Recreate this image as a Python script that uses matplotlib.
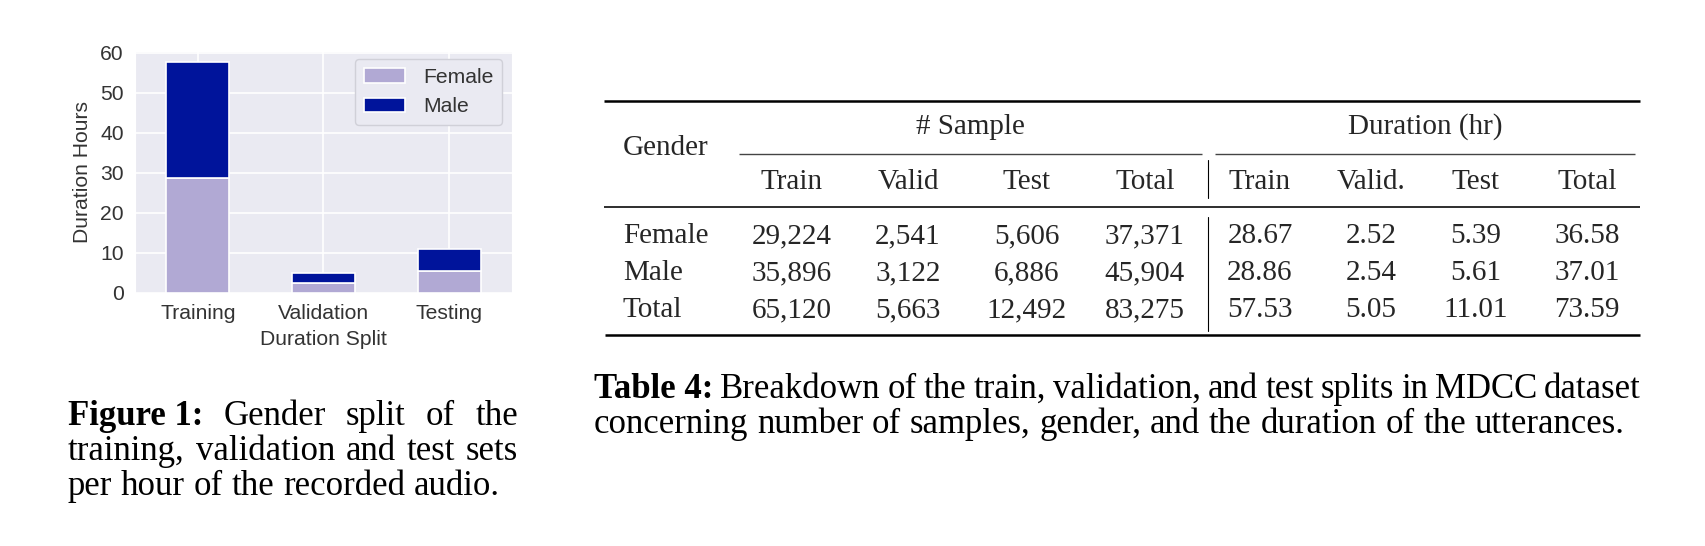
import matplotlib
matplotlib.use("Agg")
import matplotlib.pyplot as plt
import numpy as np
import seaborn as sns

# ---------------- data ----------------
splits = ["Training", "Validation", "Testing"]
female_hours = [28.67, 2.52, 5.39]
male_hours = [28.86, 2.54, 5.61]
series_labels = ["Female", "Male"]

genders = ["Female", "Male", "Total"]
sample_cols = ["Train", "Valid", "Test", "Total"]
duration_cols = ["Train", "Valid.", "Test", "Total"]
samples_female = [29224, 2541, 5606, 37371]
samples_male = [35896, 3122, 6886, 45904]
samples_total = [65120, 5663, 12492, 83275]
dur_female = [28.67, 2.52, 5.39, 36.58]
dur_male = [28.86, 2.54, 5.61, 37.01]
dur_total = [57.53, 5.05, 11.01, 73.59]

fig_caption_bold = "Figure 1:"
fig_caption_lines = ["Gender split of the",
                     "training, validation and test sets",
                     "per hour of the recorded audio."]
tab_caption_bold = "Table 4:"
tab_caption_lines = ["Breakdown of the train, validation, and test splits in MDCC dataset",
                     "concerning number of samples, gender, and the duration of the utterances."]

# ---------------- style ----------------
W, H, DPI = 1706, 546, 100
sns.set_style("darkgrid")
plt.rcParams['font.family'] = ['Liberation Sans', 'DejaVu Sans']
SERIF = ['Liberation Serif', 'DejaVu Serif']
FEMALE_C = '#b1a9d4'
MALE_C = '#00149b'
LBL = 15.2

fig = plt.figure(figsize=(W / DPI, H / DPI), dpi=DPI)
fig.patch.set_facecolor('white')

# ---------------- bar chart ----------------
ax_l, ax_r, ax_t, ax_b = 135, 512, 51, 293
ax = fig.add_axes([ax_l / W, (H - ax_b) / H, (ax_r - ax_l) / W, (ax_b - ax_t) / H])
x = np.arange(len(splits))
ax.bar(x, female_hours, width=0.5, color=FEMALE_C, edgecolor='white', linewidth=1.2,
       label=series_labels[0], zorder=2)
ax.bar(x, male_hours, width=0.5, bottom=female_hours, color=MALE_C, edgecolor='white',
       linewidth=1.2, label=series_labels[1], zorder=2)
ax.set_xlim(-0.5, 2.5)
ax.set_ylim(0, 60.4)
ax.set_yticks([0, 10, 20, 30, 40, 50, 60])
ax.set_xticks(x)
ax.set_xticklabels(splits)
ax.tick_params(axis='both', labelsize=LBL, colors='#333333', length=0)
ax.tick_params(axis='y', pad=8)
ax.tick_params(axis='x', pad=8)
ax.set_ylabel("Duration Hours", fontsize=LBL, color='#333333')
ax.yaxis.label.set_va('center')
ax.yaxis.set_label_coords(-0.14, 0.5)
ax.set_xlabel("Duration Split", fontsize=LBL, color='#333333')
ax.xaxis.label.set_va('center')
ax.xaxis.set_label_coords(0.5, -0.194)
ax.grid(True, color='white', linewidth=1.2)
leg = ax.legend(loc='upper right', bbox_to_anchor=((502 - ax_l) / (ax_r - ax_l), (ax_b - 59) / (ax_b - ax_t)),
                borderaxespad=0, fontsize=LBL, handlelength=1.95, handletextpad=0.85,
                labelspacing=0.5, borderpad=0.42, frameon=True, facecolor='#eaeaf2',
                edgecolor='#d0d0d8', framealpha=1)
for t in leg.get_texts():
    t.set_color('#333333')

# ---------------- overlay (pixel coordinates) ----------------
ov = fig.add_axes([0, 0, 1, 1])
ov.set_xlim(0, W)
ov.set_ylim(H, 0)
ov.axis('off')

renderer = fig.canvas.get_renderer()


def text_width(s, size, weight='normal'):
    t = ov.text(0, 0, s, fontsize=size, fontweight=weight, family=SERIF)
    w = t.get_window_extent(renderer).width
    t.remove()
    return w


def draw_line(tokens, x0, y, size, x1=None):
    """tokens: list of (text, weight). Justified between x0 and x1 if given."""
    widths = [text_width(s, size, w) for s, w in tokens]
    space = text_width("a a", size) - 2 * text_width("a", size)
    if x1 is not None and len(tokens) > 1:
        gap = (x1 - x0 - sum(widths)) / (len(tokens) - 1)
    else:
        gap = space
    xx = x0
    for (s, w), wd in zip(tokens, widths):
        ov.text(xx, y, s, fontsize=size, fontweight=w, family=SERIF, va='baseline',
                ha='left', color='black')
        xx += wd + gap


# ---------------- table ----------------
TS = 21
ov.plot([604, 1640], [100.5, 100.5], color='black', lw=1.8, solid_capstyle='butt')
ov.plot([739, 1202], [154, 154], color='#444444', lw=1.0, solid_capstyle='butt')
ov.plot([1215, 1635], [154, 154], color='#444444', lw=1.0, solid_capstyle='butt')
ov.plot([604, 1640], [206.5, 206.5], color='black', lw=1.15, solid_capstyle='butt')
ov.plot([605, 1640], [335, 335], color='black', lw=1.8, solid_capstyle='butt')
ov.plot([1208, 1208], [160, 198], color='black', lw=0.8)
ov.plot([1208, 1208], [217, 331], color='black', lw=0.8)

ov.text(623, 155, "Gender", fontsize=TS, family=SERIF, va='baseline', ha='left')
ov.text(970, 134, "# Sample", fontsize=TS, family=SERIF, va='baseline', ha='center')
ov.text(1425, 134, "Duration (hr)", fontsize=TS, family=SERIF, va='baseline', ha='center')

sample_x = [792, 908, 1027, 1145]
dur_x = [1260, 1371, 1476, 1587]
for cx, lab in zip(sample_x, sample_cols):
    ov.text(cx, 189, lab, fontsize=TS, family=SERIF, va='baseline', ha='center')
for cx, lab in zip(dur_x, duration_cols):
    ov.text(cx, 189, lab, fontsize=TS, family=SERIF, va='baseline', ha='center')

row_y = [243, 280, 317]
sample_rows = [samples_female, samples_male, samples_total]
dur_rows = [dur_female, dur_male, dur_total]
for ry, g, srow, drow in zip(row_y, genders, sample_rows, dur_rows):
    ov.text(623, ry, g, fontsize=TS, family=SERIF, va='baseline', ha='left')
    for cx, v in zip(sample_x, srow):
        ov.text(cx, ry, f"{v:,}", fontsize=TS, family=SERIF, va='baseline', ha='center')
    for cx, v in zip(dur_x, drow):
        ov.text(cx, ry, f"{v:.2f}", fontsize=TS, family=SERIF, va='baseline', ha='center')

# ---------------- captions ----------------
CS = 25
# Figure caption
l1 = [(fig_caption_bold, 'bold')] + [(w, 'normal') for w in fig_caption_lines[0].split()]
draw_line(l1, 68, 425, CS, x1=518)
draw_line([(w, 'normal') for w in fig_caption_lines[1].split()], 68, 460, CS, x1=518)
draw_line([(w, 'normal') for w in fig_caption_lines[2].split()], 68, 495, CS)

# Table caption
t1 = [(tab_caption_bold, 'bold')] + [(w, 'normal') for w in tab_caption_lines[0].split()]
draw_line(t1, 594, 398, CS, x1=1641)
draw_line([(w, 'normal') for w in tab_caption_lines[1].split()], 594, 433, CS)

fig.savefig("out.png", dpi=DPI, facecolor='white')
